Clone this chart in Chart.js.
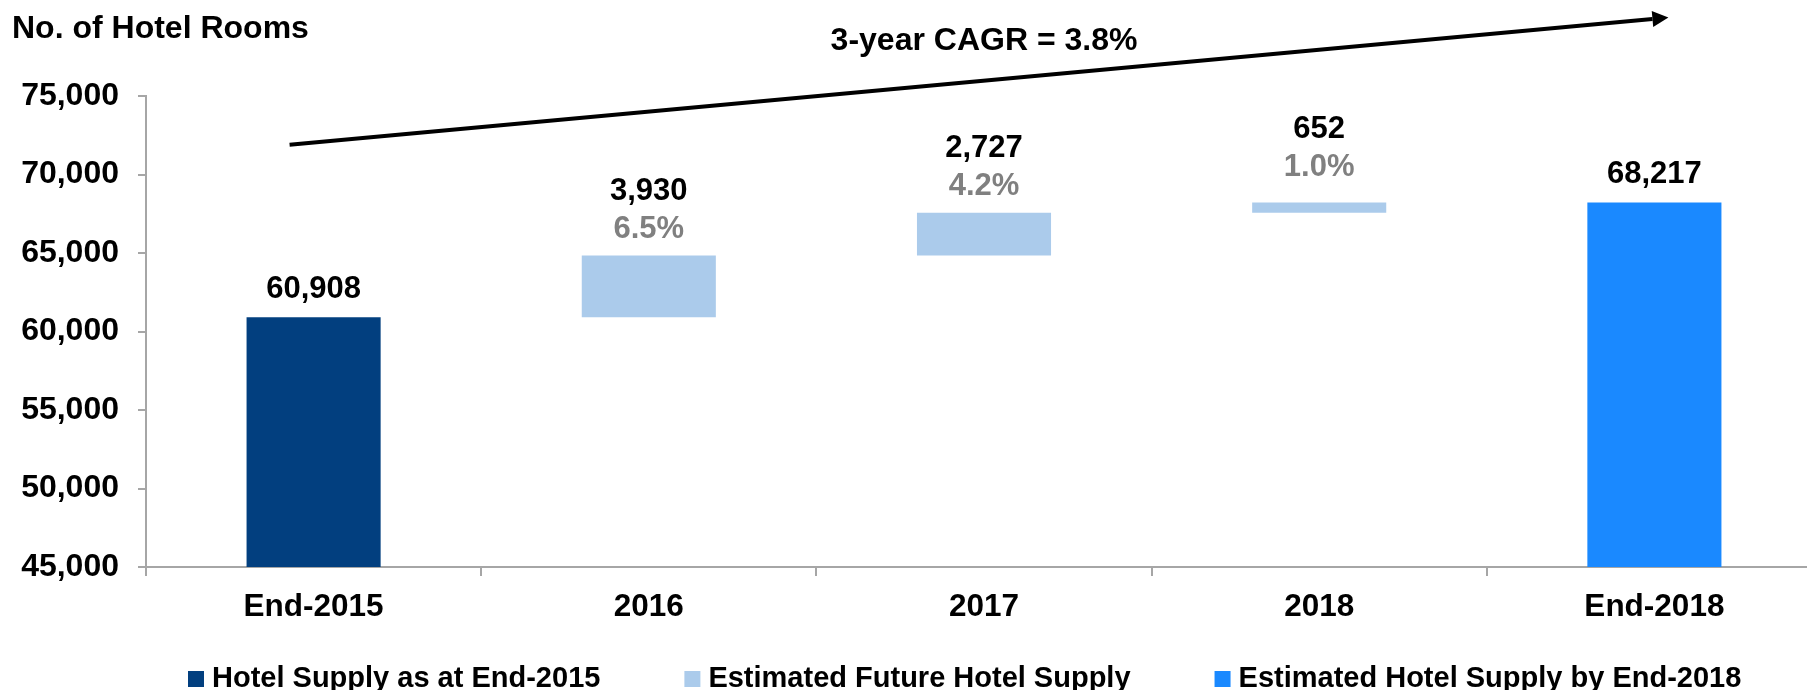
<!DOCTYPE html>
<html>
<head>
<meta charset="utf-8">
<title>Hotel Room Supply</title>
<script src="https://cdn.jsdelivr.net/npm/chart.js@4.4.1/dist/chart.umd.min.js"></script>
<style>
    html, body { margin: 0; padding: 0; background: #fff; overflow: hidden; }
    #wrap { width: 1822px; height: 690px; }
</style>
</head>
<body>
<div id="wrap"><canvas id="supplyChart" width="1822" height="690"></canvas></div>
<script>
// Chart data
const categories = ['End-2015', '2016', '2017', '2018', 'End-2018'];
const supplyEnd2015 = 60908;
const yearlyAdditions = [3930, 2727, 652];
const yearlyGrowth = [6.5, 4.2, 1.0];
const supplyEnd2018 = 68217;
const yTickValues = [45000, 50000, 55000, 60000, 65000, 70000, 75000];
const seriesNames = ['Hotel Supply as at End-2015', 'Estimated Future Hotel Supply', 'Estimated Hotel Supply by End-2018'];
const axisTitle = 'No. of Hotel Rooms';
const cagrText = '3-year CAGR = 3.8%';

const FONT = '"Liberation Sans", Arial, sans-serif';

// waterfall steps: each year's addition floats on top of the running total
let running = supplyEnd2015;
const futureBars = [null];
yearlyAdditions.forEach(v => {
    futureBars.push([running, running + v]);
    running += v;
});
futureBars.push(null);

const fmt = v => v.toLocaleString('en-US');

// Value + growth labels above each bar
const barLabels = {
    id: 'barLabels',
    afterDatasetsDraw(chart) {
        const ctx = chart.ctx;
        ctx.save();
        ctx.font = 'bold 31px ' + FONT;
        ctx.textAlign = 'center';
        ctx.textBaseline = 'middle';
        chart.data.datasets.forEach((ds, di) => {
            chart.getDatasetMeta(di).data.forEach((bar, i) => {
                const raw = ds.data[i];
                if (raw == null) return;
                if (Array.isArray(raw)) {
                    const k = i - 1;
                    // short bars push the label block a bit higher
                    const py = Math.min(bar.y - 26, bar.base - 45);
                    ctx.fillStyle = '#808080';
                    ctx.fillText(yearlyGrowth[k].toFixed(1) + '%', bar.x, py);
                    ctx.fillStyle = '#000';
                    ctx.fillText(fmt(yearlyAdditions[k]), bar.x, py - 38);
                } else {
                    ctx.fillStyle = '#000';
                    ctx.fillText(fmt(raw), bar.x, bar.y - 28);
                }
            });
        });
        ctx.restore();
    }
};

// Title, CAGR arrow and legend
const extras = {
    id: 'extras',
    afterDraw(chart) {
        const ctx = chart.ctx;
        const x = chart.scales.x, y = chart.scales.y;
        const area = chart.chartArea;
        ctx.save();

        ctx.fillStyle = '#000';
        ctx.font = 'bold 32px ' + FONT;
        ctx.textAlign = 'left';
        ctx.textBaseline = 'alphabetic';
        ctx.fillText(axisTitle, 12, 38);

        ctx.textAlign = 'center';
        ctx.textBaseline = 'middle';
        ctx.fillText(cagrText, (area.left + area.right) / 2, 41);

        // arrow from End-2015 to End-2018
        const x0 = x.getPixelForValue(0) - 24, y0 = y.getPixelForValue(71900);
        const x1 = x.getPixelForValue(4) + 14, y1 = y.getPixelForValue(80000);
        const ang = Math.atan2(y1 - y0, x1 - x0);
        const head = 16, half = 8;
        const bx = x1 - head * Math.cos(ang), by = y1 - head * Math.sin(ang);
        ctx.strokeStyle = '#000';
        ctx.lineWidth = 4;
        ctx.beginPath();
        ctx.moveTo(x0, y0);
        ctx.lineTo(bx, by);
        ctx.stroke();
        ctx.beginPath();
        ctx.moveTo(x1, y1);
        ctx.lineTo(bx + half * Math.sin(ang), by - half * Math.cos(ang));
        ctx.lineTo(bx - half * Math.sin(ang), by + half * Math.cos(ang));
        ctx.closePath();
        ctx.fill();

        // legend
        ctx.font = 'bold 29px ' + FONT;
        ctx.textAlign = 'left';
        ctx.textBaseline = 'alphabetic';
        let lx = 188;
        chart.data.datasets.forEach(ds => {
            ctx.fillStyle = ds.backgroundColor;
            ctx.fillRect(lx, 671, 16, 16);
            ctx.fillStyle = '#000';
            ctx.fillText(ds.label, lx + 24, 687);
            lx += 24 + ctx.measureText(ds.label).width + 84;
        });
        ctx.restore();
    }
};

new Chart(document.getElementById('supplyChart'), {
    type: 'bar',
    data: {
        labels: categories,
        datasets: [{
            label: seriesNames[0],
            data: [supplyEnd2015, null, null, null, null],
            backgroundColor: '#023F7F'
        }, {
            label: seriesNames[1],
            data: futureBars,
            backgroundColor: '#ABCBEB'
        }, {
            label: seriesNames[2],
            data: [null, null, null, null, supplyEnd2018],
            backgroundColor: '#1A89FF'
        }]
    },
    options: {
        responsive: false,
        animation: false,
        layout: { padding: { top: 96, left: 0, right: 0, bottom: 0 } },
        datasets: { bar: { grouped: false, categoryPercentage: 1, barPercentage: 0.4 } },
        plugins: { legend: { display: false }, title: { display: false }, tooltip: { enabled: false } },
        scales: {
            x: {
                afterFit: s => { s.height = 123; },
                grid: { offset: true, drawOnChartArea: false, tickLength: 9, color: '#A6A6A6', lineWidth: 2 },
                border: { color: '#A6A6A6', width: 2 },
                ticks: { color: '#000', padding: 12, font: { family: FONT, size: 31.5, weight: 'bold' } }
            },
            y: {
                min: 45000,
                max: 75000,
                afterFit: s => { s.width = 146; },
                afterBuildTicks: s => { s.ticks = yTickValues.map(v => ({ value: v })); },
                grid: { drawOnChartArea: false, tickLength: 8, color: '#A6A6A6', lineWidth: 2 },
                border: { color: '#A6A6A6', width: 2 },
                ticks: { color: '#000', padding: 19, callback: v => fmt(v), font: { family: FONT, size: 32, weight: 'bold' } }
            }
        }
    },
    plugins: [barLabels, extras]
});
</script>
</body>
</html>
